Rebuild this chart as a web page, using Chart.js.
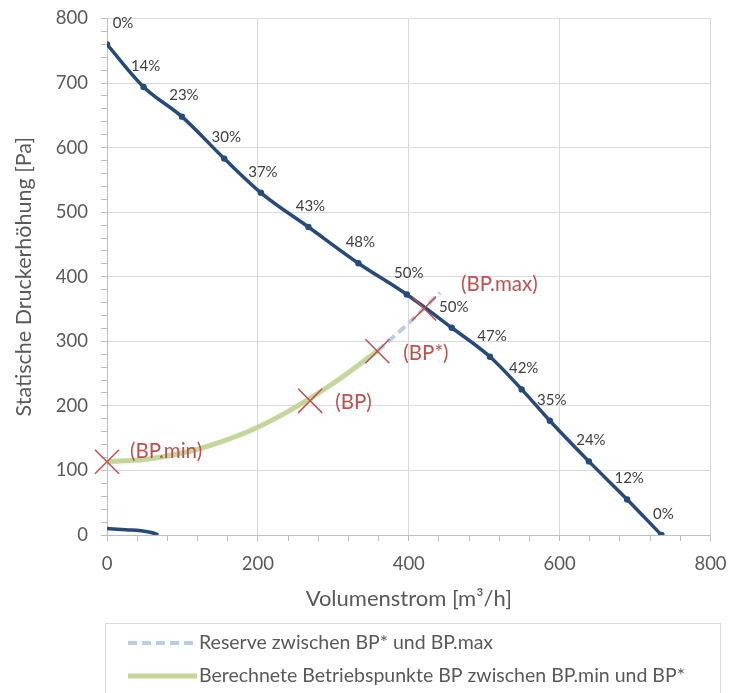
<!DOCTYPE html>
<html><head><meta charset="utf-8">
<script src="https://cdn.jsdelivr.net/npm/chart.js@4/dist/chart.umd.min.js"></script>
<style>html,body{margin:0;padding:0;background:#fff}#wrap{width:729px;height:693px}</style>
</head><body><div id="wrap"><canvas id="c" width="729" height="693"></canvas></div>
<script>
// ---- data ----
const fanX = [0, 48.5, 99.3, 155.4, 204, 267, 333.2, 397.4, 457, 507.7, 549.7, 587, 638.8, 689.5, 735];
const fanY = [760, 694, 648, 583, 530, 477, 421, 372.5, 321, 276, 225.5, 177, 114, 55, 0];
const fanLabels = ['0%','14%','23%','30%','37%','43%','48%','50%','50%','47%','42%','35%','24%','12%','0%'];
const lowX = [0, 25, 45, 60, 68];
const lowY = [10, 8, 6.5, 3.5, 0];
const bpX = [0, 50, 100, 150, 200, 250, 300, 358.4];
const bpY = [114, 117, 127, 144, 167, 198, 235, 285];
const resX = [358.4, 400, 441.5];
const resY = [285, 328, 375.5];
const opX = [0, 269.3, 358.4, 420.3];
const opY = [113.4, 207.8, 284.7, 350.8];
const opLabels = ['(BP.min)', '(BP)', '(BP*)', '(BP.max)'];
const xTickLabels = [0, 200, 400, 600, 800];
const yTickLabels = [0, 100, 200, 300, 400, 500, 600, 700, 800];
const legendLabels = ['Reserve zwischen BP* und BP.max', 'Berechnete Betriebspunkte BP zwischen BP.min und BP*'];

const pts = (xs, ys) => xs.map((x, i) => ({x: x, y: ys[i]}));
const FONT = 'Lato, "Open Sans", sans-serif';
const BLUE = '#264A7B', GREEN = '#C3D69B', LIGHT = '#B9CDE5', RED = '#C0504D', GREY = '#595959';

const pctPlugin = {
  id: 'pct',
  afterDatasetsDraw(chart) {
    const meta = chart.getDatasetMeta(2);
    const ctx = chart.ctx;
    ctx.save();
    ctx.font = '15px ' + FONT;
    ctx.fillStyle = '#404040';
    ctx.textAlign = 'center';
    ctx.textBaseline = 'middle';
    meta.data.forEach((el, i) => {
      const dx = i === 0 ? 16 : 2;
      ctx.fillText(fanLabels[i], el.x + dx, el.y - 21);
    });
    const om = chart.getDatasetMeta(0);
    ctx.font = '20.5px ' + FONT;
    ctx.fillStyle = RED;
    ctx.textAlign = 'left';
    const off = {'(BP.min)': [23, -10], '(BP)': [25, 2], '(BP*)': [26, 2], '(BP.max)': [37, -24]};
    om.data.forEach((el, i) => {
      const o = off[opLabels[i]];
      ctx.fillText(opLabels[i], el.x + o[0], el.y + o[1]);
    });
    ctx.restore();
  }
};

const legendPlugin = {
  id: 'boxLegend',
  afterDraw(chart) {
    const ctx = chart.ctx;
    ctx.save();
    ctx.strokeStyle = '#D9D9D9';
    ctx.lineWidth = 1;
    ctx.strokeRect(105.5, 623.5, 615, 80);
    ctx.font = '19.5px ' + FONT;
    ctx.fillStyle = GREY;
    ctx.textBaseline = 'middle';
    ctx.textAlign = 'left';
    const items = [chart.data.datasets[3], chart.data.datasets[4]];
    items.forEach((ds, i) => {
      const y = 643 + i * 33;
      ctx.beginPath();
      ctx.strokeStyle = ds.borderColor;
      ctx.lineWidth = ds.borderWidth;
      ctx.setLineDash(ds.borderDash || []);
      ctx.moveTo(128, y); ctx.lineTo(197, y);
      ctx.stroke();
      ctx.setLineDash([]);
      ctx.fillText(ds.label, 199, y);
    });
    ctx.restore();
  }
};

new Chart(document.getElementById('c'), {
  type: 'scatter',
  data: {
    datasets: [
      { label: 'ops', data: pts(opX, opY), showLine: false, pointStyle: 'crossRot', pointRadius: 17,
        borderColor: RED, backgroundColor: RED, pointBorderWidth: 1.5, order: 0, clip: false },
      { label: 'low', data: pts(lowX, lowY), showLine: true, borderColor: BLUE, borderWidth: 3.5,
        pointRadius: 0, cubicInterpolationMode: 'monotone', order: 4 },
      { label: 'fan', data: pts(fanX, fanY), showLine: true, borderColor: BLUE, backgroundColor: BLUE,
        borderWidth: 3.5, pointRadius: 3.2, pointBorderWidth: 0, cubicInterpolationMode: 'monotone', order: 1 },
      { label: legendLabels[0], data: pts(resX, resY), showLine: true, borderColor: LIGHT, borderWidth: 4,
        borderDash: [9, 5], pointRadius: 0, order: 2 },
      { label: legendLabels[1], data: pts(bpX, bpY), showLine: true, borderColor: GREEN, borderWidth: 5,
        pointRadius: 0, cubicInterpolationMode: 'monotone', order: 3 }
    ]
  },
  options: {
    responsive: false, animation: false, devicePixelRatio: 1,
    layout: { padding: { left: 0, right: 18.3, top: 18.3, bottom: 78 } },
    plugins: { legend: { display: false }, tooltip: { enabled: false } },
    scales: {
      x: {
        type: 'linear', min: 0, max: 800,
        ticks: { stepSize: 40, autoSkip: false, maxRotation: 0, padding: 12, color: GREY,
          font: { family: FONT, size: 18.5 },
          callback: v => xTickLabels.includes(v) ? String(v) : '' },
        grid: { color: c => (c.tick && xTickLabels.includes(c.tick.value)) ? '#D9D9D9' : 'rgba(0,0,0,0)',
          tickColor: '#BFBFBF', tickLength: 6, lineWidth: 1 },
        border: { color: '#BFBFBF' },
        title: { display: true, text: 'Volumenstrom [m³/h]', color: GREY, font: { family: FONT, size: 22 },
          padding: { top: 0, bottom: 3 } },
        afterFit: s => { s.height = 80; s.paddingLeft = 0; s.paddingRight = 0; }
      },
      y: {
        type: 'linear', min: 0, max: 800,
        ticks: { stepSize: 20, autoSkip: false, padding: 13, color: GREY,
          font: { family: FONT, size: 18.5 },
          callback: v => yTickLabels.includes(v) ? String(v) : '' },
        grid: { color: c => (c.tick && yTickLabels.includes(c.tick.value)) ? '#D9D9D9' : 'rgba(0,0,0,0)',
          tickColor: '#BFBFBF', tickLength: 6, lineWidth: 1 },
        border: { color: '#BFBFBF' },
        title: { display: true, text: 'Statische Druckerhöhung [Pa]', color: GREY, font: { family: FONT, size: 21.5 },
          padding: { top: 11, bottom: 0 } },
        afterFit: s => { s.width = 107; s.paddingTop = 0; s.paddingBottom = 0; }
      }
    }
  },
  plugins: [pctPlugin, legendPlugin]
});
</script>
</body></html>
